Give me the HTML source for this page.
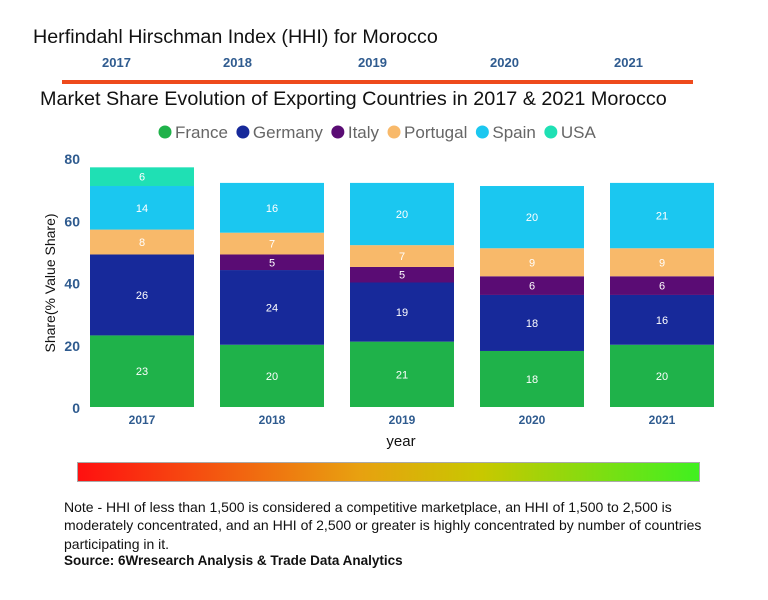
<!DOCTYPE html>
<html><head><meta charset="utf-8"><style>
body{margin:0;width:768px;height:600px;background:#fff;font-family:"Liberation Sans",sans-serif;position:relative;overflow:hidden}
.abs{position:absolute}
</style></head><body>
<div class="abs" style="left:33px;top:26px;font-size:19.7px;color:#111">Herfindahl Hirschman Index (HHI) for Morocco</div>
<div>
<div class="abs" style="left:102px;top:55px;font-size:13px;font-weight:bold;color:#2f5b8f">2017</div>
<div class="abs" style="left:223px;top:55px;font-size:13px;font-weight:bold;color:#2f5b8f">2018</div>
<div class="abs" style="left:358px;top:55px;font-size:13px;font-weight:bold;color:#2f5b8f">2019</div>
<div class="abs" style="left:490px;top:55px;font-size:13px;font-weight:bold;color:#2f5b8f">2020</div>
<div class="abs" style="left:614px;top:55px;font-size:13px;font-weight:bold;color:#2f5b8f">2021</div>
</div>
<div class="abs" style="left:62px;top:80px;width:631px;height:4px;background:#ee4a1c"></div>
<div class="abs" style="left:40px;top:88px;font-size:19.8px;color:#111;white-space:nowrap">Market Share Evolution of Exporting Countries in 2017 &amp; 2021 Morocco</div>
<svg class="abs" style="left:0;top:0" width="768" height="600" id="chart"></svg>
<div class="abs" style="left:77px;top:462px;width:621px;height:18px;border:1px solid #aaa;background:linear-gradient(to right,#ff1010,#e8a010 45%,#c8c800 65%,#40f020)"></div>
<div class="abs" style="left:64px;top:498px;width:665px;font-size:14px;line-height:18.3px;color:#111">Note - HHI of less than 1,500 is considered a competitive marketplace, an HHI of 1,500 to 2,500 is moderately concentrated, and an HHI of 2,500 or greater is highly concentrated by number of countries participating in it.</div>
<div class="abs" style="left:64px;top:553px;font-size:13.5px;font-weight:bold;color:#111">Source: 6Wresearch Analysis &amp; Trade Data Analytics</div>
<script>
const years=["2017","2018","2019","2020","2021"];
const seriesNames=["France","Germany","Italy","Portugal","Spain","USA"];
const colors=["#1fb24a","#17299a","#5a0c74","#f8b96a","#1bc7f0","#1fe0b4"];
const france=[23,20,21,18,20];
const germany=[26,24,19,18,16];
const italy=[0,5,5,6,6];
const portugal=[8,7,7,9,9];
const spain=[14,16,20,20,21];
const usa=[6,0,0,0,0];
const yTicks=[0,20,40,60,80];
const series=[france,germany,italy,portugal,spain,usa];
const svg=document.getElementById('chart');
const NS='http://www.w3.org/2000/svg';
const y0=407,yTop=158,yMax=80;
const y=v=>y0-(v/yMax)*(y0-yTop);
const x=i=>90+i*130;
const bw=104;
function mk(t,a){const e=document.createElementNS(NS,t);for(const k in a)e.setAttribute(k,a[k]);svg.appendChild(e);return e;}
yTicks.forEach(t=>{const e=mk('text',{x:80,y:y(t)+6,'text-anchor':'end','font-size':14,'font-weight':'bold',fill:'#2f5b8f'});e.textContent=t;

});
years.forEach((yr,i)=>{let cum=0;
series.forEach((s,j)=>{const v=s[i];if(!v)return;
const r=mk('rect',{x:x(i),y:y(cum+v),width:bw,height:y(cum)-y(cum+v),fill:colors[j]});


const t=mk('text',{x:x(i)+bw/2,y:(y(cum)+y(cum+v))/2+4,'text-anchor':'middle','font-size':11,fill:'#fff'});t.textContent=v;


cum+=v;});
const t=mk('text',{x:x(i)+bw/2,y:424,'text-anchor':'middle','font-size':12,'font-weight':'bold',fill:'#2f5b8f'});t.textContent=yr;

});
const xl=mk('text',{x:401,y:446,'text-anchor':'middle','font-size':15,fill:'#111'});xl.textContent='year';


const yl=mk('text',{x:0,y:0,'text-anchor':'middle','font-size':14,fill:'#111',transform:'translate(55,283) rotate(-90)'});yl.textContent='Share(% Value Share)';


let lx=158;
seriesNames.forEach((n,j)=>{
const c=mk('circle',{cx:lx+7,cy:132,r:6.5,fill:colors[j]});


const t=mk('text',{x:lx+17,y:138,'font-size':17,fill:'#666'});t.textContent=n;


lx+=17+t.getComputedTextLength()+8;});
</script>
</body></html>
